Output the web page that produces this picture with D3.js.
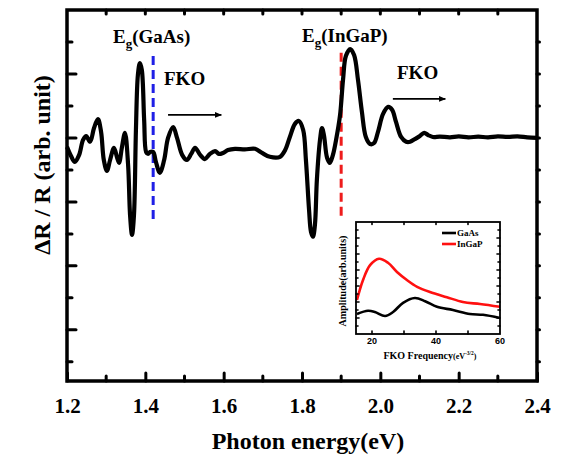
<!DOCTYPE html>
<html>
<head>
<meta charset="utf-8">
<script src="https://cdn.jsdelivr.net/npm/d3@7"></script>
<style>
  html, body { margin: 0; padding: 0; background: #fff; }
  svg { display: block; }
</style>
</head>
<body>
<svg id="chart" width="561" height="457"></svg>
<script>
// Electroreflectance spectrum: photon energy (eV) vs ΔR/R (arbitrary units)
const energy = [
  1.200, 1.210, 1.220, 1.231, 1.241, 1.249, 1.259, 1.269, 1.279, 1.287,
  1.294, 1.302, 1.310, 1.320, 1.328, 1.333, 1.340, 1.348, 1.356, 1.361,
  1.366, 1.371, 1.376, 1.381, 1.386, 1.391, 1.397, 1.402, 1.407, 1.412,
  1.420, 1.427, 1.437, 1.448, 1.458, 1.471, 1.481, 1.494, 1.506, 1.517,
  1.527, 1.540, 1.552, 1.565, 1.578, 1.588, 1.598, 1.611, 1.629, 1.654,
  1.680, 1.698, 1.718, 1.744, 1.757, 1.769, 1.782, 1.792, 1.803, 1.810,
  1.818, 1.823, 1.828, 1.833, 1.838, 1.846, 1.851, 1.856, 1.864, 1.871,
  1.879, 1.887, 1.897, 1.905, 1.912, 1.923, 1.933, 1.943, 1.953, 1.963,
  1.974, 1.984, 1.994, 2.007, 2.020, 2.030, 2.040, 2.053, 2.066, 2.076,
  2.089, 2.101, 2.112, 2.122, 2.134, 2.152, 2.178, 2.200, 2.225, 2.250,
  2.275, 2.300, 2.325, 2.350, 2.375, 2.400
];
const dRR = [
  -0.28, -0.56, -0.75, -0.53, -0.06, 0.06, -0.12, 0.31, 0.59, 0.19,
  -0.69, -1.03, -0.69, -0.31, -0.62, -0.78, -0.31, 0.16, -0.84, -2.41,
  -3.03, -2.41, 0.25, 1.97, 2.34, 2.13, 0.56, -0.44, -0.50, -0.44,
  -0.44, -0.75, -1.09, -0.69, 0.00, 0.34, 0.00, -0.53, -0.69, -0.50,
  -0.31, -0.53, -0.66, -0.50, -0.41, -0.50, -0.47, -0.38, -0.34, -0.36,
  -0.34, -0.47, -0.59, -0.59, -0.38, 0.03, 0.44, 0.53, 0.25, -0.69,
  -2.25, -2.94, -3.09, -2.72, -1.31, -0.06, 0.31, 0.09, -0.62, -0.78,
  -0.53, -0.06, 0.70, 1.85, 2.56, 2.78, 2.59, 1.81, 0.81, 0.03,
  -0.19, -0.16, 0.19, 0.75, 0.97, 0.88, 0.50, 0.03, -0.12, -0.12,
  -0.03, 0.06, 0.16, 0.09, 0.03, 0.04, 0.02, 0.05, 0.02, 0.04,
  0.02, 0.05, 0.03, 0.05, 0.02, 0.00
];
const energyTicks = [1.2, 1.4, 1.6, 1.8, 2.0, 2.2, 2.4];
const bandGaps = [
  { name: "GaAs", energy: 1.42, top: 2.56, bottom: -2.62, color: "#1f1fe6" },
  { name: "InGaP", energy: 1.90, top: 2.66, bottom: -2.47, color: "#ee1c1c" }
];

// Inset: FKO amplitude vs FKO frequency
const freqGaAs = [15.3, 18.75, 20.9, 24.1, 26.6, 29.7, 33.4, 36.6, 40.3, 45.3, 50.6, 54.7, 60];
const ampGaAs  = [2.5, 2.9, 2.75, 2.25, 2.75, 3.9, 4.5, 4.1, 3.4, 3.0, 2.5, 2.4, 2.0];
const freqInGaP = [15.3, 17.2, 19.4, 22.2, 25.0, 27.8, 30.9, 34.1, 38.1, 43.4, 48.4, 53.75, 60];
const ampInGaP  = [4.25, 6.75, 8.6, 9.4, 8.9, 7.75, 6.75, 5.9, 5.25, 4.6, 4.0, 3.75, 3.4];
const freqTicks = [20, 40, 60];

const SERIF = "'Liberation Serif', 'Times New Roman', Tinos, 'DejaVu Serif', serif";
const SANS = "'Liberation Sans', Arial, Arimo, sans-serif";

const svg = d3.select("#chart");

// ---------- main panel ----------
const L = 67, R = 537, T = 10, B = 381;
const x = d3.scaleLinear().domain([1.2, 2.4]).range([L, R]);
const y = d3.scaleLinear().domain([-7.6, 4]).range([B, T]);

const defs = svg.append("defs");
defs.append("marker")
  .attr("id", "head")
  .attr("viewBox", "0 0 10 10")
  .attr("refX", 9).attr("refY", 5)
  .attr("markerWidth", 7).attr("markerHeight", 7)
  .attr("markerUnits", "userSpaceOnUse")
  .attr("orient", "auto")
  .append("path").attr("d", "M0,1 L10,5 L0,9 Z").attr("fill", "#000");

// band-gap markers
svg.append("g").selectAll("line").data(bandGaps).join("line")
  .attr("x1", d => x(d.energy)).attr("x2", d => x(d.energy))
  .attr("y1", d => y(d.top)).attr("y2", d => y(d.bottom))
  .attr("stroke", d => d.color)
  .attr("stroke-width", 3)
  .attr("stroke-dasharray", "9,5");

// spectrum
const line = d3.line()
  .x((d, i) => x(energy[i]))
  .y(d => y(d))
  .curve(d3.curveCatmullRom.alpha(0.5));
svg.append("path")
  .attr("d", line(dRR))
  .attr("fill", "none")
  .attr("stroke", "#000")
  .attr("stroke-width", 4.2)
  .attr("stroke-linejoin", "round");

// bottom axis (ticks inside the frame)
const minorE = d3.range(1.3, 2.4, 0.2);
const axB = svg.append("g").attr("transform", `translate(0,${B})`);
axB.call(d3.axisBottom(x).tickValues(energyTicks).tickSize(-8).tickFormat(d3.format(".1f")).tickPadding(17));
axB.attr("font-family", null);
axB.select(".domain").remove();
axB.selectAll("text").attr("font-size", 21).attr("dy", "0.71em");
svg.append("g").attr("transform", `translate(0,${B})`)
  .selectAll("line").data(minorE).join("line")
  .attr("x1", d => x(d)).attr("x2", d => x(d)).attr("y1", 0).attr("y2", -5);

// top ticks
svg.append("g").selectAll("line").data(d3.range(1.3, 2.4, 0.1)).join("line")
  .attr("x1", d => x(d)).attr("x2", d => x(d)).attr("y1", T).attr("y2", T + 4);

// left ticks (major every 2, minor every 1)
const yMajor = [2, 0, -2, -4, -6];
const yMinor = [3, 1, -1, -3, -5, -7];
svg.append("g").selectAll("line").data(yMajor).join("line")
  .attr("x1", L).attr("x2", L + 9).attr("y1", d => y(d)).attr("y2", d => y(d));
svg.append("g").selectAll("line").data(yMinor).join("line")
  .attr("x1", L).attr("x2", L + 5).attr("y1", d => y(d)).attr("y2", d => y(d));
// right ticks
svg.append("g").selectAll("line").data(yMajor.concat(yMinor)).join("line")
  .attr("x1", R).attr("x2", R + 2.5).attr("y1", d => y(d)).attr("y2", d => y(d));

svg.selectAll("line:not([stroke-dasharray])")
  .attr("stroke", "#000").attr("stroke-width", 3).attr("stroke-linecap", "round");

// frame
svg.append("rect")
  .attr("x", L).attr("y", T).attr("width", R - L).attr("height", B - T)
  .attr("fill", "none").attr("stroke", "#000").attr("stroke-width", 3.5);

// axis titles
svg.append("text")
  .attr("x", (L + R) / 2 + 6).attr("y", 449)
  .attr("text-anchor", "middle").attr("font-size", 24)
  .text("Photon energy(eV)");
svg.append("text")
  .attr("transform", "translate(50,165) rotate(-90)")
  .attr("text-anchor", "middle").attr("font-size", 24)
  .text("ΔR / R (arb. unit)");

// band-gap labels
function egLabel(px, py, name) {
  const t = svg.append("text").attr("x", px).attr("y", py).attr("font-size", 19);
  t.append("tspan").text("E");
  t.append("tspan").attr("font-size", 13).attr("dy", 5).text("g");
  t.append("tspan").attr("dy", -5).text("(" + name + ")");
}
egLabel(113, 43, "GaAs");
egLabel(302, 42, "InGaP");

// FKO labels with arrows
svg.append("text").attr("x", 164).attr("y", 85).attr("font-size", 19).text("FKO");
svg.append("text").attr("x", 397).attr("y", 79).attr("font-size", 19).text("FKO");
svg.append("line")
  .attr("x1", x(1.458)).attr("x2", x(1.594)).attr("y1", y(0.72)).attr("y2", y(0.72))
  .attr("stroke", "#000").attr("stroke-width", 1.6).attr("marker-end", "url(#head)");
svg.append("line")
  .attr("x1", x(2.032)).attr("x2", x(2.166)).attr("y1", y(1.22)).attr("y2", y(1.22))
  .attr("stroke", "#000").attr("stroke-width", 1.6).attr("marker-end", "url(#head)");

// ---------- inset ----------
const iL = 356, iR = 500, iT = 222, iB = 334;
const ix = d3.scaleLinear().domain([15, 60]).range([iL, iR]);
const iy = d3.scaleLinear().domain([0, 14]).range([iB, iT]);
const inset = svg.append("g");

inset.append("rect").attr("x", iL).attr("y", iT).attr("width", iR - iL).attr("height", iB - iT)
  .attr("fill", "#fff");

const iline = d3.line().curve(d3.curveCatmullRom.alpha(0.5));
inset.append("path")
  .attr("d", iline(freqGaAs.map((f, i) => [ix(f), iy(ampGaAs[i])])))
  .attr("fill", "none").attr("stroke", "#000").attr("stroke-width", 2.6);
inset.append("path")
  .attr("d", iline(freqInGaP.map((f, i) => [ix(f), iy(ampInGaP[i])])))
  .attr("fill", "none").attr("stroke", "#ff1010").attr("stroke-width", 2.6);

const iTicks = inset.append("g");
iTicks.selectAll(".yl").data(d3.range(1, 14)).join("line").attr("class", "yl")
  .attr("x1", iL).attr("x2", d => iL + (d % 2 ? 2 : 3)).attr("y1", d => iy(d)).attr("y2", d => iy(d));
iTicks.selectAll(".yr").data(d3.range(1, 14)).join("line").attr("class", "yr")
  .attr("x1", iR).attr("x2", d => iR - (d % 2 ? 2 : 3)).attr("y1", d => iy(d)).attr("y2", d => iy(d));
iTicks.selectAll(".xb").data([20, 30, 40, 50]).join("line").attr("class", "xb")
  .attr("x1", d => ix(d)).attr("x2", d => ix(d)).attr("y1", iB).attr("y2", iB - 3);
iTicks.selectAll(".xt").data([20, 30, 40, 50]).join("line").attr("class", "xt")
  .attr("x1", d => ix(d)).attr("x2", d => ix(d)).attr("y1", iT).attr("y2", iT + 2.5);
iTicks.selectAll("line").attr("stroke", "#000").attr("stroke-width", 1.6).attr("stroke-linecap", "round");

inset.append("rect").attr("x", iL).attr("y", iT).attr("width", iR - iL).attr("height", iB - iT)
  .attr("fill", "none").attr("stroke", "#000").attr("stroke-width", 1.8);

const cap = inset.append("text").attr("x", 430).attr("y", 359)
  .attr("text-anchor", "middle").attr("font-size", 10);
cap.append("tspan").text("FKO Frequency");
cap.append("tspan").attr("font-size", 8).text("(eV");
cap.append("tspan").attr("font-size", 5.5).attr("dy", -4).text("-3/2");
cap.append("tspan").attr("font-size", 8).attr("dy", 4).text(")");

inset.append("text")
  .attr("transform", "translate(346,281) rotate(-90)")
  .attr("text-anchor", "middle").attr("font-size", 10)
  .text("Amplitude(arb.units)");

// legend
const legend = [
  { label: "GaAs", color: "#000", yy: 233 },
  { label: "InGaP", color: "#ff1010", yy: 244 }
];
const lg = inset.append("g");
lg.selectAll("line").data(legend).join("line")
  .attr("x1", 442).attr("x2", 456).attr("y1", d => d.yy).attr("y2", d => d.yy)
  .attr("stroke", d => d.color).attr("stroke-width", 2.6);
lg.selectAll("text").data(legend).join("text")
  .attr("x", 457).attr("y", d => d.yy + 3)
  .attr("font-size", 9)
  .text(d => d.label);

// all text: bold serif
svg.selectAll("text")
  .style("font-family", SERIF)
  .style("font-weight", "bold")
  .style("fill", "#000");

// inset frequency tick labels use a bold sans face
inset.selectAll(".xlab").data(freqTicks).join("text").attr("class", "xlab")
  .attr("x", d => ix(d)).attr("y", 344)
  .attr("text-anchor", "middle")
  .style("font-family", SANS)
  .style("font-weight", "bold")
  .attr("font-size", 9)
  .text(d => d);
</script>
</body>
</html>
